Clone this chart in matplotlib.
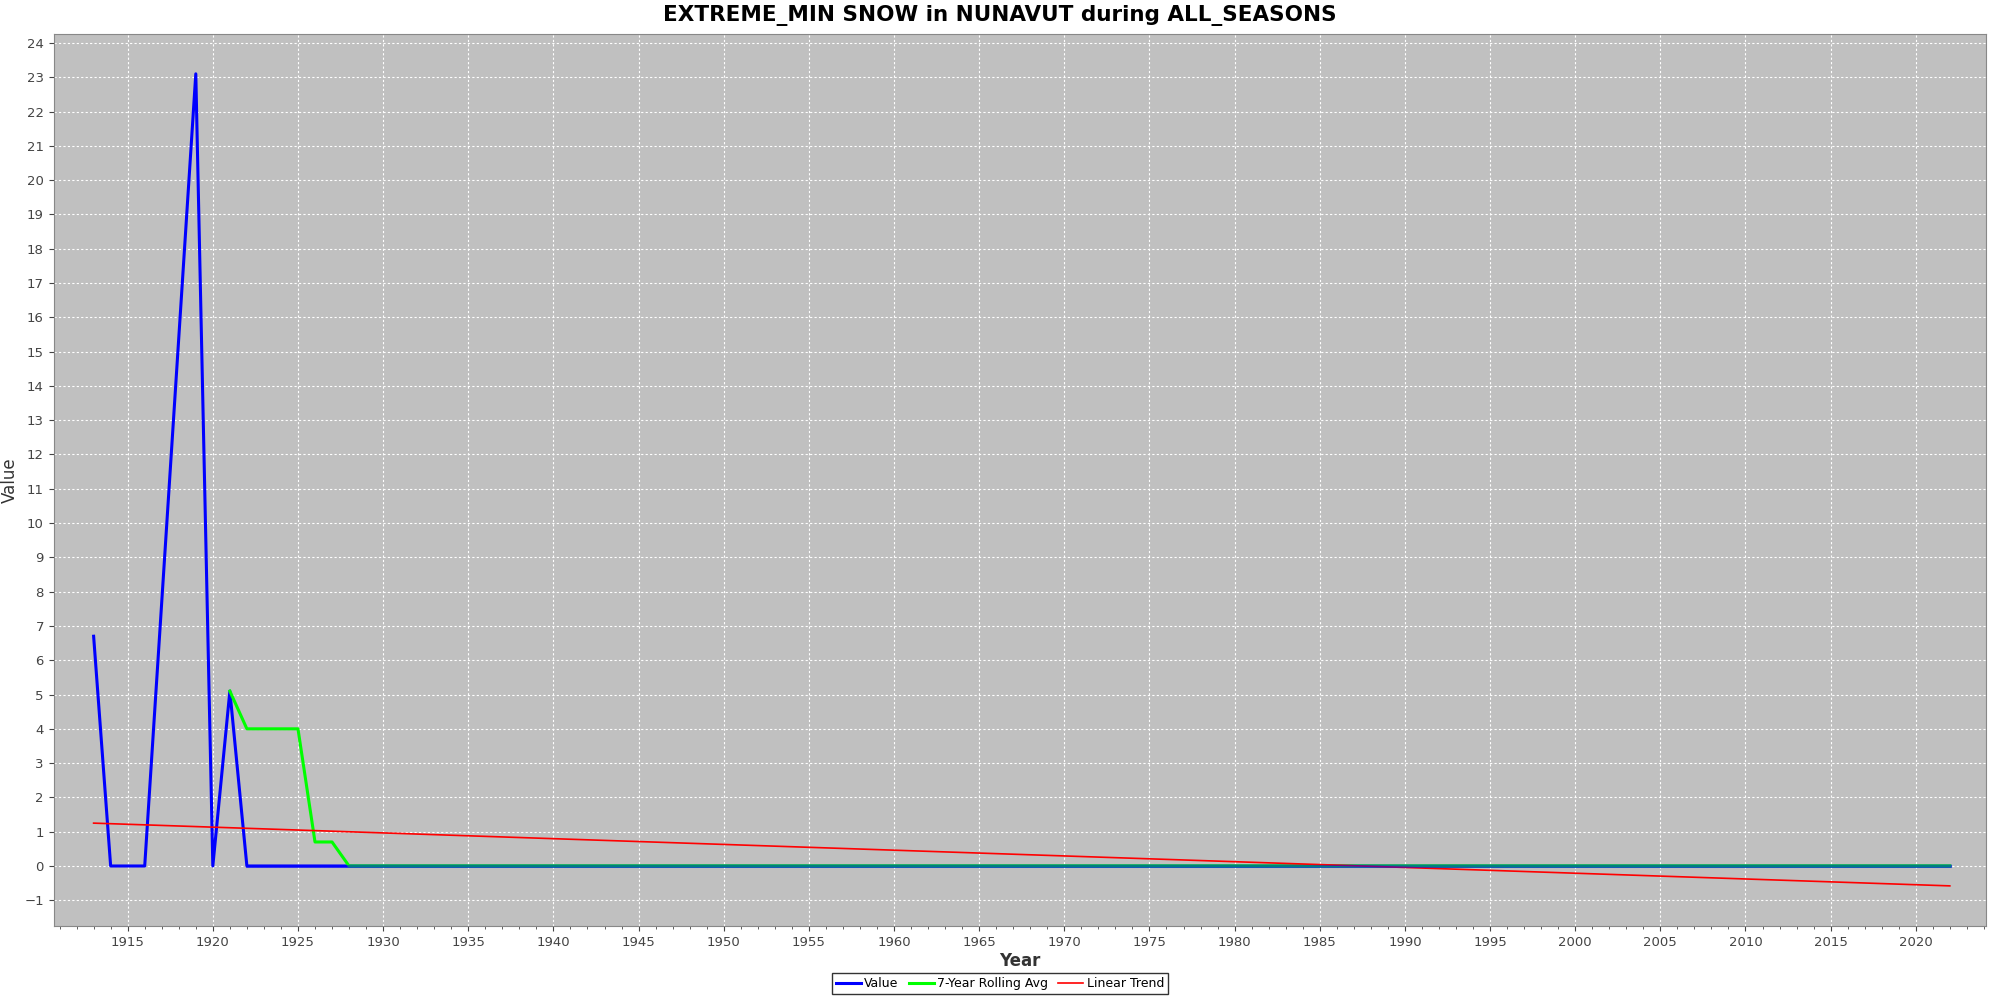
import matplotlib
matplotlib.use("Agg")
import matplotlib.pyplot as plt
from matplotlib.ticker import MultipleLocator

value_years = [1913, 1914, 1915, 1916, 1919, 1920, 1921, 1922] + list(range(1923, 2023))
values = [6.7, 0, 0, 0, 23.1, 0, 5.1, 0] + [0] * 100

roll_years = list(range(1921, 2023))
roll_values = [5.1, 4.0, 4.0, 4.0, 4.0, 0.7, 0.7] + [0] * 95

trend_years = [1913, 2022]
trend_values = [1.25, -0.58]

fig = plt.figure(figsize=(20, 10), dpi=100)
ax = fig.add_axes([0.0268, 0.074, 0.966, 0.8916])
ax.set_facecolor("#c0c0c0")
ax.plot(value_years, values, color="#0000ff", lw=2.2, label="Value")
ax.plot(roll_years, roll_values, color="#00ff00", lw=2.2, label="7-Year Rolling Avg")
ax.plot(trend_years, trend_values, color="#ff0000", lw=1.2, label="Linear Trend")
ax.plot(value_years[7:], values[7:], color="#0000ff", lw=2.2, alpha=0.5)

ax.set_xlim(1910.65, 2024.1)
ax.set_ylim(-1.75, 24.25)
ax.xaxis.set_major_locator(MultipleLocator(5))
ax.xaxis.set_minor_locator(MultipleLocator(1))
ax.yaxis.set_major_locator(MultipleLocator(1))
ax.grid(True, which="major", color="white", ls=(0, (2, 2)), lw=0.8)
ax.tick_params(labelsize=9.5, colors="#444444", which="both")
for s in ax.spines.values():
    s.set_color("#888888")
ax.set_xlabel("Year", fontsize=12, fontweight="bold", color="#333333", labelpad=2)
ax.set_ylabel("Value", fontsize=12, color="#333333", labelpad=4)
fig.suptitle("EXTREME_MIN SNOW in NUNAVUT during ALL_SEASONS", fontsize=15.5,
             fontweight="bold", y=0.995)
leg = fig.legend(loc="lower center", ncol=3, bbox_to_anchor=(0.5, 0.0), fontsize=9,
                 frameon=True, fancybox=False, edgecolor="black", handlelength=2,
                 borderpad=0.3, columnspacing=0.8, handletextpad=0.3)
fig.savefig("out.png", dpi=100)
